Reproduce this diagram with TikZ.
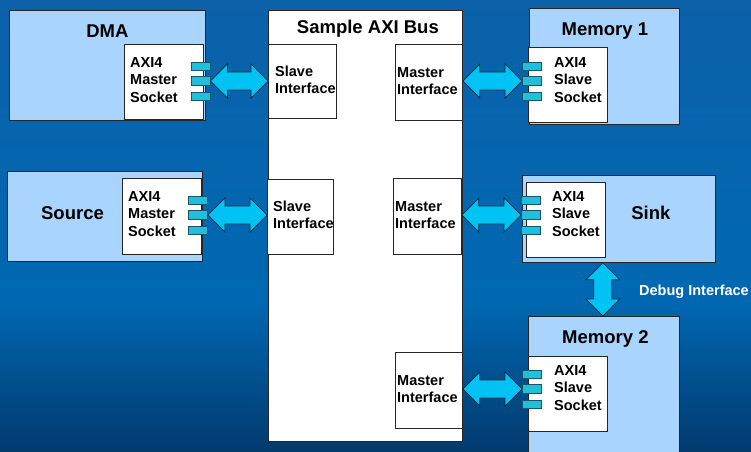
\documentclass[tikz,border=0pt]{standalone}
\usepackage{fontspec}
\setmainfont{Liberation Sans}
\usetikzlibrary{calc}

\definecolor{bgtop}{HTML}{0C61A9}
\definecolor{bgmid}{HTML}{0068B2}
\definecolor{bgbot}{HTML}{023A6E}
\definecolor{unitfill}{HTML}{A9D4FE}
\definecolor{tabfill}{HTML}{22BFDB}
\definecolor{tabline}{HTML}{16566A}
\definecolor{arrowfill}{HTML}{00C3F3}
\definecolor{arrowline}{HTML}{0A2A40}

\tikzset{
  sz/.style 2 args={minimum width=#1pt, minimum height=#2pt},
  unit/.style={draw=black!85, line width=0.8pt, fill=unitfill, anchor=north west, inner sep=0pt},
  whitebox/.style={draw=black!85, line width=0.8pt, fill=white, anchor=north west, inner sep=0pt},
  porttab/.style={draw=tabline, line width=0.9pt, fill=tabfill, minimum width=19pt, minimum height=8.5pt, inner sep=0pt},
  title/.style={font=\fontsize{18.5}{22}\selectfont\bfseries, inner sep=0pt},
  lbl/.style={font=\fontsize{14.5}{17.5}\selectfont\bfseries, align=left, inner sep=0pt, anchor=west},
  busarrow/.style={draw=arrowline, line width=0.7pt, fill=arrowfill, line join=miter},
}

% three socket tabs: name, x, y of the middle tab
\newcommand\sockettabs[3]{%
  \node[porttab] (#11) at (#2,#3-14.5) {};
  \node[porttab] (#12) at (#2,#3) {};
  \node[porttab] (#13) at (#2,#3+15.5) {};
}
% horizontal double arrow between two points at the same height
\newcommand\hlink[2]{%
  \draw[busarrow] (#1) -- ++(17pt,17pt) -- ++(0,-8pt) -- ($(#2)+(-17pt,9pt)$)
    -- ++(0,8pt) -- (#2) -- ++(-17pt,-17pt) -- ++(0,8pt)
    -- ($(#1)+(17pt,-9pt)$) -- ++(0,-8pt) -- cycle;}
% vertical double arrow from a top point down to a bottom point
\newcommand\vlink[2]{%
  \draw[busarrow] (#1) -- ++(17pt,-17pt) -- ++(-8pt,0) -- ($(#2)+(9pt,17pt)$)
    -- ++(8pt,0) -- (#2) -- ++(-17pt,17pt) -- ++(8pt,0)
    -- ($(#1)+(-9pt,-17pt)$) -- ++(-8pt,0) -- cycle;}

\begin{document}
\begin{tikzpicture}[x=1pt, y=-1pt]
  \useasboundingbox (0,0) rectangle (751,451);
  % background
  \shade[top color=bgtop, bottom color=bgmid] (0,0) rectangle (751,300);
  \shade[top color=bgmid, bottom color=bgbot] (0,300) rectangle (751,451);

  % masters on the left
  \node[unit, sz={196}{110}] (dma) at (9,10) {};
  \node[whitebox, sz={79}{75}] (dmas) at (124,44) {};
  \node[unit, sz={195}{90}] (src) at (7,171) {};
  \node[whitebox, sz={79}{76}] (srcs) at (122,178) {};

  % the bus with its interfaces
  \node[whitebox, sz={194}{431}] (bus) at (268,10) {};
  \node[whitebox, sz={68}{74}] (si1) at (268,44) {};
  \node[whitebox, sz={66}{75}] (si2) at (267,179) {};
  \node[whitebox, sz={67}{76}] (mi1) at (395,44) {};
  \node[whitebox, sz={68}{76}] (mi2) at (393,178) {};
  \node[whitebox, sz={67}{76}] (mi3) at (395,352) {};

  % slaves on the right
  \node[unit, sz={150}{116}] (mem1) at (529,8) {};
  \node[whitebox, sz={79}{75}] (mem1s) at (528,47) {};
  \node[unit, sz={193}{87}] (sink) at (522,175) {};
  \node[whitebox, sz={79}{75}] (sinks) at (526,182) {};
  \node[unit, sz={151}{150}] (mem2) at (528,316) {};
  \node[whitebox, sz={79}{75}] (mem2s) at (528,356) {};

  % socket tabs
  \sockettabs{dmat}{200.5}{81}
  \sockettabs{srct}{198}{215}
  \sockettabs{mema}{532}{81}
  \sockettabs{sinkt}{531}{215}
  \sockettabs{memb}{532}{389}

  % titles
  \node[title] (dmatitle) at ($(dma.north)+(0,-21pt)$) {DMA};
  \node[title] (srctitle) at ($(src.west)+(65.5pt,3pt)$) {Source};
  \node[title] (bustitle) at ($(bus.north)+(2.5pt,-19pt)$) {Sample AXI Bus};
  \node[title] (mem1title) at ($(mem1.north)+(0.5pt,-23.5pt)$) {Memory 1};
  \node[title] (sinktitle) at ($(sink.east)+(-65pt,6.5pt)$) {Sink};
  \node[title] (mem2title) at ($(mem2.north)+(1.5pt,-23.3pt)$) {Memory 2};

  % socket labels
  \node[lbl] (dmal) at ($(dmas.west |- dmat2)+(6pt,1pt)$) {AXI4\\Master\\Socket};
  \node[lbl] (srcl) at ($(srcs.west |- srct2)+(6pt,1pt)$) {AXI4\\Master\\Socket};
  \node[lbl] (mem1l) at ($(mem1s.west |- mema2)+(26pt,1pt)$) {AXI4\\Slave\\Socket};
  \node[lbl] (sinkl) at ($(sinks.west |- sinkt2)+(26pt,1pt)$) {AXI4\\Slave\\Socket};
  \node[lbl] (mem2l) at ($(mem2s.west |- memb2)+(26pt,1pt)$) {AXI4\\Slave\\Socket};

  % interface labels
  \node[lbl] (si1l) at ($(si1.west)+(7pt,1.5pt)$) {Slave\\Interface};
  \node[lbl] (si2l) at ($(si2.west)+(6pt,2pt)$) {Slave\\Interface};
  \node[lbl] (mi1l) at ($(mi1.west)+(2pt,1.5pt)$) {Master\\Interface};
  \node[lbl] (mi2l) at ($(mi2.west)+(2pt,1.5pt)$) {Master\\Interface};
  \node[lbl] (mi3l) at ($(mi3.west)+(2pt,1.5pt)$) {Master\\Interface};

  % socket-to-interface links
  \hlink{dmat2.east}{dmat2 -| si1.west}
  \hlink{srct2.east}{srct2 -| si2.west}
  \hlink{mema2 -| mi1.east}{mema2.west}
  \hlink{sinkt2 -| mi2.east}{sinkt2.west}
  \hlink{memb2 -| mi3.east}{memb2.west}

  % debug link between sink and memory 2
  \coordinate (dbgtop) at ($(sinks.east |- sink.south)+(-3pt,0)$);
  \coordinate (dbgbot) at (dbgtop |- mem2.north);
  \vlink{dbgtop}{dbgbot}
  \node[lbl, text=white] (dbg) at (639,292) {Debug Interface};
\end{tikzpicture}
\end{document}
